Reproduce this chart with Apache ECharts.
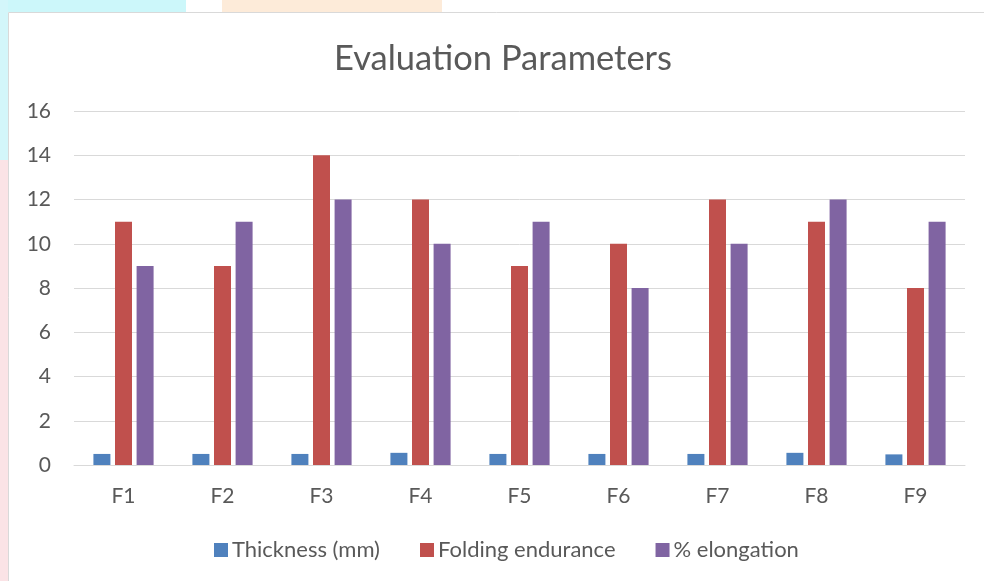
<!DOCTYPE html>
<html>
<head>
<meta charset="utf-8">
<script src="https://cdn.jsdelivr.net/npm/echarts@6/dist/echarts.min.js"></script>
<style>
  html, body { margin: 0; padding: 0; background: #ffffff; }
  #chart { width: 984px; height: 581px; }
</style>
</head>
<body>
<div id="chart"></div>
<script>
// Formulation batches and measured parameters
const categories = ['F1', 'F2', 'F3', 'F4', 'F5', 'F6', 'F7', 'F8', 'F9'];
const thickness = [0.5, 0.5, 0.5, 0.55, 0.5, 0.5, 0.5, 0.55, 0.48];
const foldingEndurance = [11, 9, 14, 12, 9, 10, 12, 11, 8];
const elongation = [9, 11, 12, 10, 11, 8, 10, 12, 11];
const yTicks = [0, 2, 4, 6, 8, 10, 12, 14, 16];

const textColor = '#595959';
const font = 'Lato, "Open Sans", sans-serif';

const chart = echarts.init(document.getElementById('chart'), null, { renderer: 'canvas' });

chart.setOption({
  animation: false,
  backgroundColor: '#ffffff',
  graphic: [
    // faint page colours around the chart box
    { type: 'rect', shape: { x: 0, y: 0, width: 186, height: 12 }, style: { fill: '#ccf7fa' }, silent: true },
    { type: 'rect', shape: { x: 222, y: 0, width: 220, height: 12 }, style: { fill: '#fdebd9' }, silent: true },
    { type: 'rect', shape: { x: 0, y: 0, width: 8, height: 160 }, style: { fill: '#d3f6fa' }, silent: true },
    { type: 'rect', shape: { x: 0, y: 160, width: 8, height: 421 }, style: { fill: '#fbe3e6' }, silent: true },
    // chart box outline
    { type: 'rect', shape: { x: 8.5, y: 12.5, width: 1000, height: 600 }, style: { fill: '#ffffff', stroke: '#d9d9d9', lineWidth: 1 }, silent: true, z: -1 }
  ],
  title: {
    text: 'Evaluation Parameters',
    left: 334,
    top: 41,
    padding: 0,
    textStyle: { fontFamily: font, fontSize: 34.5, fontWeight: 'normal', color: textColor }
  },
  legend: {
    bottom: 20,
    left: 214,
    padding: 0,
    itemWidth: 14,
    itemHeight: 14,
    itemGap: 40,
    icon: 'rect',
    textStyle: { fontFamily: font, fontSize: 22, color: textColor, padding: [0, 0, 0, -1] },
    data: ['Thickness (mm)', 'Folding endurance', '% elongation']
  },
  grid: { left: 74, right: 19, top: 111, bottom: 116, containLabel: false },
  xAxis: {
    type: 'category',
    data: categories,
    axisLine: { lineStyle: { color: '#d9d9d9', width: 1 } },
    axisTick: { show: false },
    axisLabel: { fontFamily: font, fontSize: 21, color: textColor, margin: 21 }
  },
  yAxis: {
    type: 'value',
    min: yTicks[0],
    max: yTicks[yTicks.length - 1],
    interval: 2,
    axisLine: { show: false },
    axisTick: { show: false },
    splitLine: { lineStyle: { color: '#d9d9d9', width: 1 } },
    axisLabel: { fontFamily: font, fontSize: 21, color: textColor, margin: 23 }
  },
  series: [
    {
      name: 'Thickness (mm)', type: 'bar', data: thickness,
      barWidth: 17, barGap: '27%',
      itemStyle: { color: '#4F81BD' }
    },
    {
      name: 'Folding endurance', type: 'bar', data: foldingEndurance,
      barWidth: 17, barGap: '27%',
      itemStyle: { color: '#C0504D' }
    },
    {
      name: '% elongation', type: 'bar', data: elongation,
      barWidth: 17, barGap: '27%',
      itemStyle: { color: '#8064A2' }
    }
  ]
});
</script>
</body>
</html>
